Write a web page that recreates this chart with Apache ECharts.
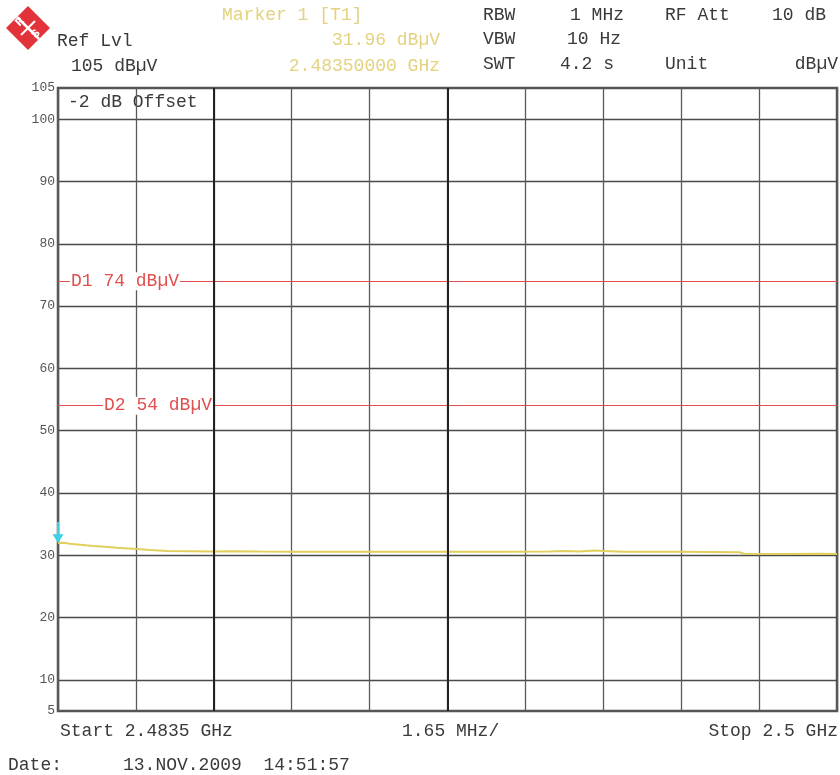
<!DOCTYPE html>
<html>
<head>
<meta charset="utf-8">
<script src="https://cdn.jsdelivr.net/npm/echarts@6/dist/echarts.min.js"></script>
<style>
  html, body { margin: 0; padding: 0; background: #fff; }
  #spec { width: 840px; height: 775px; }
</style>
</head>
<body>
<div id="spec"></div>
<script>
let chart = echarts.init(document.getElementById('spec'));

/* frequency offset from start, MHz (start 2.4835 GHz, 1.65 MHz/div) */
let freqOffset = [0, 0.13, 0.25, 0.47, 0.74, 1.0, 1.25, 1.67, 1.95, 2.31, 2.79, 3.28, 3.64, 4.27, 5.12, 6.18, 7.24, 8.29, 9.35, 10.41, 10.73, 11.04, 11.36, 11.68, 12.0, 13.16, 14.43, 14.53, 15.49, 16.12, 16.5];
/* trace level, dBuV */
let level = [31.96, 32.0, 31.85, 31.7, 31.5, 31.35, 31.2, 31.0, 30.85, 30.7, 30.65, 30.6, 30.65, 30.6, 30.55, 30.55, 30.55, 30.55, 30.55, 30.6, 30.7, 30.6, 30.75, 30.65, 30.55, 30.55, 30.5, 30.25, 30.2, 30.25, 30.2];
/* display lines */
let dLines = [74, 54];
let dNames = ['D1', 'D2'];
/* marker */
let marker = [0, 31.96];

let mono = '"Liberation Mono", "DejaVu Sans Mono", monospace';
let txt = '#3a3a3a';
let yel = '#e3d27e';

let pts = freqOffset.map(function (f, i) { return [f, level[i]]; });

function t(text, x, y, color, align, size) {
  return {
    type: 'text', x: x, y: y, silent: true,
    style: {
      text: text, fill: color || txt, font: (size || 18) + 'px ' + mono,
      align: align || 'left', verticalAlign: 'middle'
    }
  };
}

let header = [
  t('Marker 1 [T1]', 222, 15, yel),
  t('Ref Lvl', 57, 41),
  t('31.96 dB\u00b5V', 440, 40, yel, 'right'),
  t('105 dB\u00b5V', 71, 66),
  t('2.48350000 GHz', 440, 66, yel, 'right'),
  t('RBW', 483, 15), t('1 MHz', 570, 15), t('RF Att', 665, 15), t('10 dB', 772, 15),
  t('VBW', 483, 39), t('10 Hz', 567, 39),
  t('SWT', 483, 64), t('4.2 s', 560, 64), t('Unit', 665, 64), t('dB\u00b5V', 838, 64, null, 'right'),
  t('-2 dB Offset', 68, 102),
  t('Start 2.4835 GHz', 60, 731),
  t('1.65 MHz/', 402, 731),
  t('Stop 2.5 GHz', 838, 731, null, 'right'),
  t('Date:', 8, 765),
  t('13.NOV.2009  14:51:57', 123, 765)
];

/* R&S logo */
let logo = [
  { type: 'polygon', silent: true,
    shape: { points: [[28, 6], [50, 28], [28, 50], [6, 28]] },
    style: { fill: '#e2323a' } },
  { type: 'polyline', silent: true,
    shape: { points: [[17, 17], [39, 39]] },
    style: { stroke: '#fff', lineWidth: 2.5 } },
  { type: 'polyline', silent: true,
    shape: { points: [[21, 35], [35, 21]] },
    style: { stroke: '#fff', lineWidth: 2 } },
  { type: 'text', x: 20, y: 22, rotation: Math.PI / 4, silent: true,
    style: { text: 'R', fill: '#fff', font: 'bold 12px ' + mono, align: 'center', verticalAlign: 'middle' } },
  { type: 'text', x: 36, y: 34, rotation: Math.PI / 4, silent: true,
    style: { text: 'S', fill: '#fff', font: 'bold 12px ' + mono, align: 'center', verticalAlign: 'middle' } }
];

let dLineData = dLines.map(function (v, i) {
  return {
    yAxis: v,
    lineStyle: { color: '#e0504f', width: 1, type: 'solid' },
    label: {
      show: true,
      formatter: dNames[i] + ' ' + v + ' dB\u00b5V',
      position: 'insideStart',
      distance: [i === 0 ? 12 : 45, 0],
      verticalAlign: 'middle',
      color: '#e0504f',
      fontFamily: mono,
      fontSize: 18,
      backgroundColor: '#fff',
      padding: [0, 1]
    }
  };
});
/* two darker verticals of the analyzer graticule */
[3.3, 8.25].forEach(function (x) {
  dLineData.push({ xAxis: x, lineStyle: { color: '#222', width: 2, type: 'solid' }, label: { show: false } });
});

let option = {
  backgroundColor: '#fff',
  animation: false,
  graphic: header.concat(logo),
  grid: {
    left: 58, right: 3, top: 88, bottom: 64,
    show: true, borderColor: '#555', borderWidth: 2.5
  },
  xAxis: {
    type: 'value', min: 0, max: 16.5, interval: 1.65,
    axisLine: { show: false }, axisTick: { show: false }, axisLabel: { show: false },
    splitLine: { show: true, lineStyle: { color: '#5a5a5a', width: 1.3 } }
  },
  yAxis: {
    type: 'value', min: 5, max: 105, interval: 5,
    axisLine: { show: false },
    axisTick: { show: false },
    axisLabel: {
      color: '#555', fontFamily: mono, fontSize: 13, margin: 3,
      formatter: function (v) {
        return (v % 10 === 0 || v === 5 || v === 105) ? String(v) : '';
      }
    },
    splitLine: { show: true, lineStyle: { color: ['rgba(0,0,0,0)', '#4a4a4a'], width: 1.3 } }
  },
  series: [{
    type: 'line',
    data: pts,
    showSymbol: false,
    clip: false,
    lineStyle: { color: '#e0cf5c', width: 2 },
    markLine: {
      silent: true,
      symbol: 'none',
      data: dLineData
    },
    markPoint: {
      silent: true,
      symbol: 'path://M3.3,0 H4.7 V11 H3.3 Z M0,11 H8 L4,19 Z',
      symbolSize: [11, 21],
      symbolOffset: [0, '-50%'],
      itemStyle: { color: '#3fd0e4' },
      label: { show: false },
      data: [{ coord: marker }]
    }
  }]
};

chart.setOption(option);
</script>
</body>
</html>
